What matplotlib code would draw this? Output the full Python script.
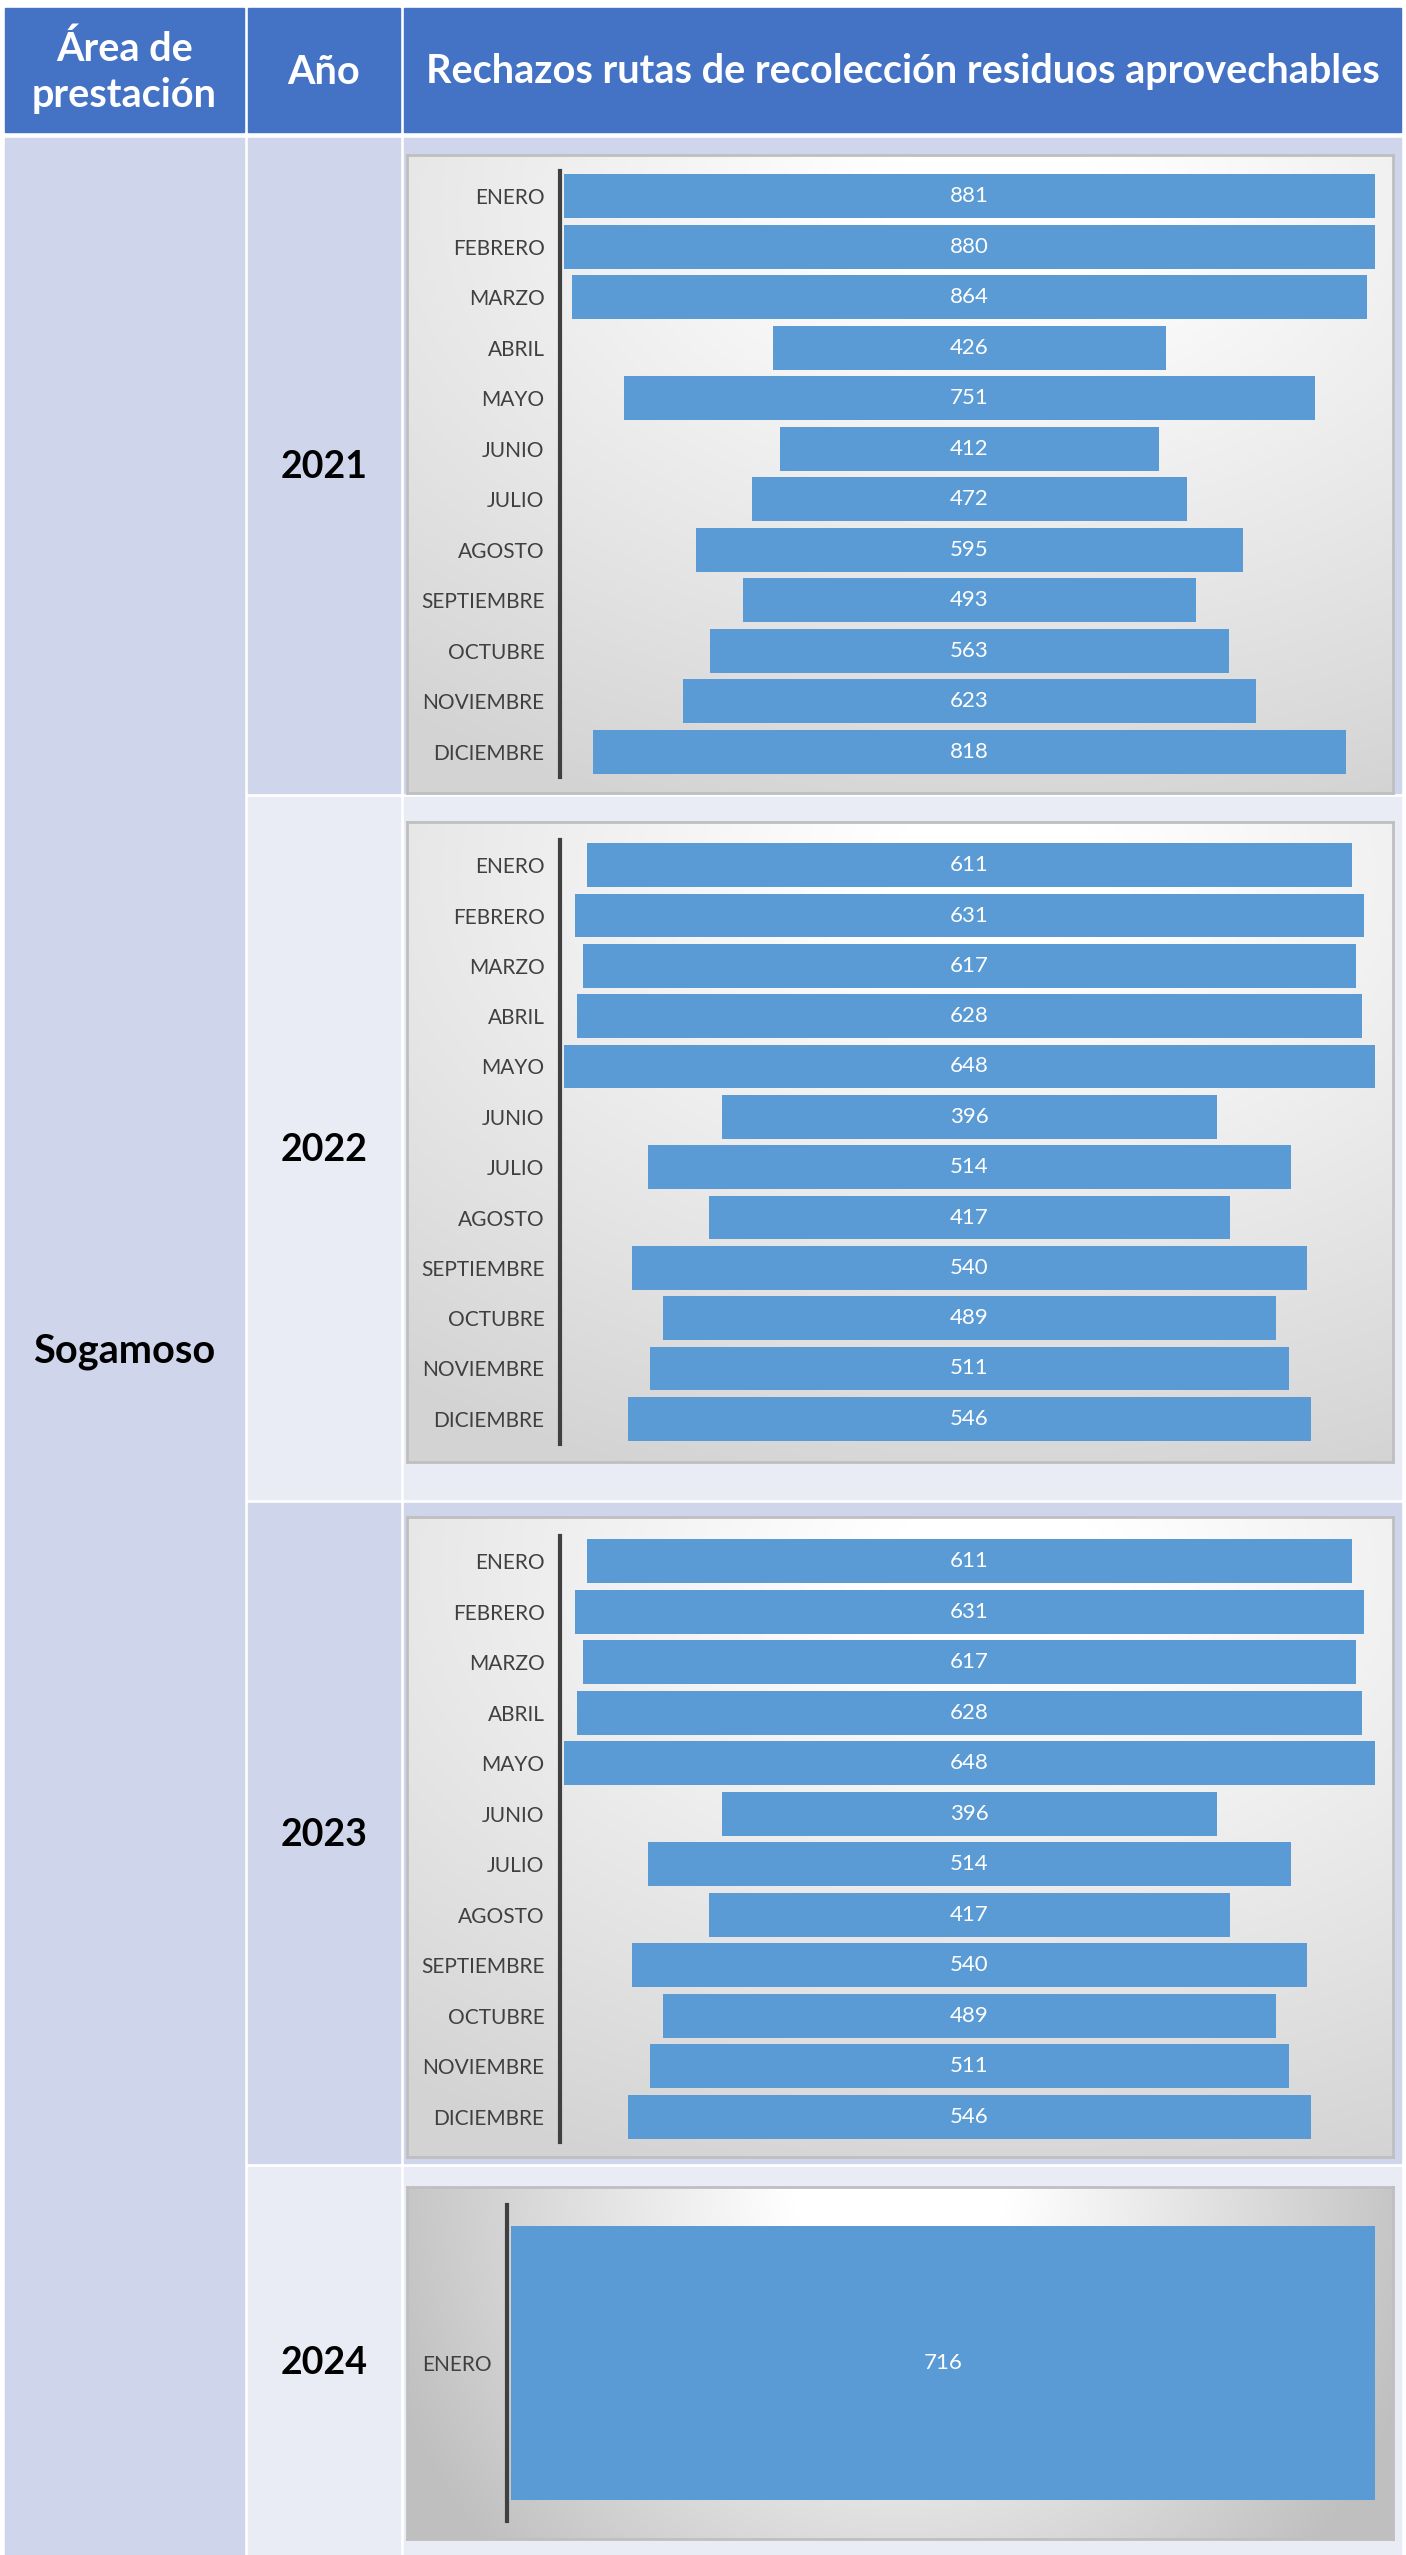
import numpy as np
import matplotlib.pyplot as plt
from matplotlib.patches import Rectangle

plt.rcParams['font.family'] = ['Lato', 'DejaVu Sans']

meses = ["ENERO", "FEBRERO", "MARZO", "ABRIL", "MAYO", "JUNIO", "JULIO",
         "AGOSTO", "SEPTIEMBRE", "OCTUBRE", "NOVIEMBRE", "DICIEMBRE"]
rechazos_2021 = [881, 880, 864, 426, 751, 412, 472, 595, 493, 563, 623, 818]
rechazos_2022 = [611, 631, 617, 628, 648, 396, 514, 417, 540, 489, 511, 546]
rechazos_2023 = [611, 631, 617, 628, 648, 396, 514, 417, 540, 489, 511, 546]
rechazos_2024 = [716]
anios = ["2021", "2022", "2023", "2024"]
area = "Sogamoso"
encabezados = ["Área de\nprestación", "Año",
               "Rechazos rutas de recolección residuos aprovechables"]

W, H = 1406, 2555
fig = plt.figure(figsize=(W / 100, H / 100), dpi=100)
fig.patch.set_facecolor("white")

HEAD = "#4472C4"
DARK = "#CFD5EA"
LIGHT = "#E9EBF5"
BAR = "#5B9BD5"
TXT = "#404040"


def pos(x0, y0, x1, y1):
    return [x0 / W, 1 - y1 / H, (x1 - x0) / W, (y1 - y0) / H]


# table background drawn in pixel coords
tab = fig.add_axes([0, 0, 1, 1])
tab.set_xlim(0, W)
tab.set_ylim(H, 0)
tab.axis("off")

cols = [(5, 244), (248, 400), (404, 1401)]
for (x0, x1), t in zip(cols, encabezados):
    tab.add_patch(Rectangle((x0, 8), x1 - x0, 124, color=HEAD))
    tab.text((x0 + x1) / 2, 72, t, ha="center", va="center", color="white",
             fontsize=28.5, fontweight="bold", linespacing=1.3)

rows = [(138, 793), (797, 1499), (1503, 2163), (2167, 2555)]
row_cols = [DARK, LIGHT, DARK, LIGHT]
tab.add_patch(Rectangle((5, 138), 239, H - 138, color=DARK))
tab.text(124, 1352, area, ha="center", va="center", fontsize=28.5,
         fontweight="bold", color="black")
for (y0, y1), c, yr in zip(rows, row_cols, anios):
    tab.add_patch(Rectangle((248, y0), 152, y1 - y0, color=c))
    tab.add_patch(Rectangle((404, y0), 997, y1 - y0, color=c))
    tab.text(324, (y0 + y1) / 2 + 2, yr, ha="center", va="center",
             fontsize=27, fontweight="bold", color="black")


def gradient(box, cx, cy, sx, sy, edge, flat):
    ax = fig.add_axes(pos(*box))
    xx, yy = np.meshgrid(np.linspace(0, 1, 300), np.linspace(0, 1, 200))
    t = np.sqrt(((xx - cx) / sx) ** 2 + ((yy - cy) / sy) ** 2)
    t = np.clip((t - flat) / (1 - flat), 0, 1)
    v = 1 - (1 - edge) * t
    img = np.dstack([v, v, v])
    ax.imshow(img, extent=[0, 1, 1, 0], aspect="auto", interpolation="bilinear")
    ax.set_xlim(0, 1)
    ax.set_ylim(1, 0)
    ax.set_xticks([])
    ax.set_yticks([])
    for s in ax.spines.values():
        s.set_color("#BFBFBF")
        s.set_linewidth(2)
    return ax


def funnel(box, labels, values):
    ax = fig.add_axes(pos(*box))
    ax.patch.set_alpha(0)
    vmax = max(values)
    y = np.arange(len(values))
    lefts = [(vmax - v) / 2 for v in values]
    ax.barh(y, values, left=lefts, height=0.87, color=BAR)
    for yi, v in zip(y, values):
        ax.text(vmax / 2, yi, str(v), ha="center", va="center",
                color="white", fontsize=16)
    ax.set_xlim(0, vmax)
    ax.set_ylim(len(values) - 0.5, -0.5)
    ax.set_yticks(y, labels)
    ax.tick_params(axis="y", length=0, pad=11, labelsize=15, labelcolor=TXT)
    ax.set_xticks([])
    for k in ["top", "right", "bottom"]:
        ax.spines[k].set_visible(False)
    ax.spines["left"].set_position(("outward", 3))
    ax.spines["left"].set_color(TXT)
    ax.spines["left"].set_linewidth(3)
    return ax


gradient((407, 155, 1393, 793), 0.6, 0.08, 1.0, 1.0, 0.83, 0.12)
funnel((564, 171, 1375, 777), meses, rechazos_2021)

gradient((407, 822, 1393, 1462), 0.6, 0.08, 1.0, 1.0, 0.83, 0.12)
funnel((564, 840, 1375, 1444), meses, rechazos_2022)

gradient((407, 1517, 1393, 2157), 0.6, 0.08, 1.0, 1.0, 0.83, 0.12)
funnel((564, 1536, 1375, 2142), meses, rechazos_2023)

gradient((407, 2187, 1393, 2539), 0.5, 0.0, 0.55, 1.6, 0.75, 0.2)
funnel((511, 2205, 1375, 2521), meses[:1], rechazos_2024)

fig.savefig("out.png", dpi=100)
